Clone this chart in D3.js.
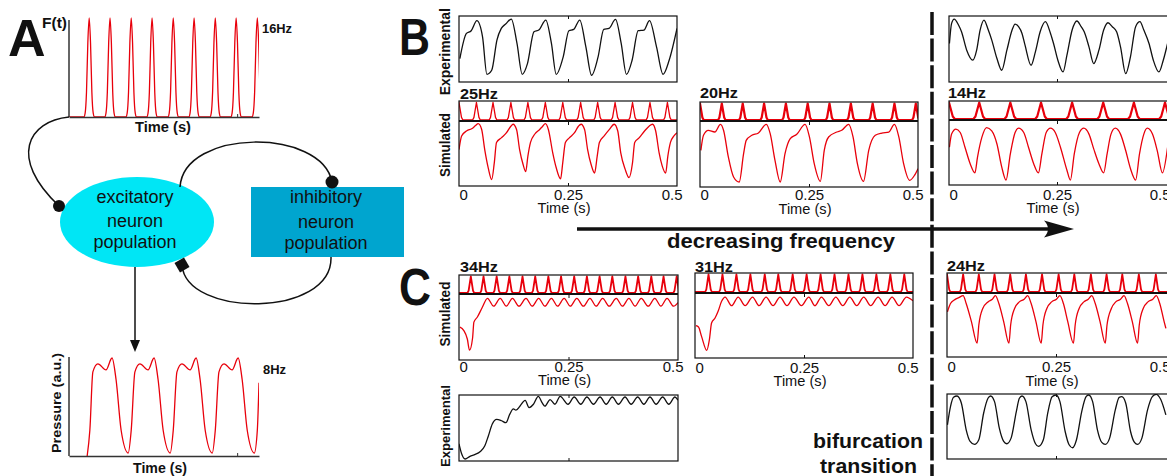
<!DOCTYPE html>
<html>
<head>
<meta charset="utf-8">
<script src="https://cdn.jsdelivr.net/npm/d3@7"></script>
<style>
  html, body { margin: 0; padding: 0; background: #fff; }
  svg { display: block; font-family: "Liberation Sans", Arial, Helvetica, sans-serif; }
</style>
</head>
<body>
<svg id="fig" width="1167" height="476"></svg>
<script>
// ---- values (time in s, amplitude normalised 0..1 in its box) ----
const tickValues = [0, 0.25, 0.5];
const tickLabels = ["0", "0.25", "0.5"];
const freqLabels = ["25Hz", "20Hz", "14Hz", "34Hz", "31Hz", "24Hz"];

// panel A: 16 Hz drive F(t) (pulse peak times) and the 8 Hz pressure response
const aDriveTimes = [0.060, 0.122, 0.185, 0.247, 0.310, 0.372, 0.435, 0.497, 0.560];
const aPressure = [
  [0.054,0.00],[0.062,0.26],[0.071,0.85],[0.086,0.93],[0.110,0.87],[0.128,0.99],[0.140,0.77],[0.155,0.26],[0.176,0.03],
  [0.185,0.26],[0.196,0.85],[0.211,0.93],[0.235,0.87],[0.253,0.99],[0.265,0.77],[0.280,0.26],[0.301,0.03],
  [0.310,0.26],[0.321,0.85],[0.336,0.93],[0.360,0.87],[0.378,0.99],[0.390,0.77],[0.405,0.26],[0.426,0.03],
  [0.435,0.26],[0.446,0.85],[0.461,0.93],[0.485,0.87],[0.503,0.99],[0.515,0.77],[0.530,0.26],[0.551,0.03],
  [0.560,0.26],[0.565,0.74]
];

// panel B, 25 Hz column
const bExp25 = [
  [0.002,0.355],[0.017,0.736],[0.028,0.777],[0.041,0.929],[0.054,0.685],[0.064,0.117],[0.075,0.178],[0.087,0.635],
  [0.097,0.812],[0.107,0.878],[0.120,0.954],[0.133,0.584],[0.145,0.117],[0.157,0.279],[0.172,0.761],[0.183,0.787],
  [0.199,0.939],[0.212,0.584],[0.223,0.117],[0.239,0.381],[0.252,0.777],[0.263,0.797],[0.277,0.939],[0.291,0.533],
  [0.304,0.102],[0.319,0.381],[0.332,0.797],[0.344,0.812],[0.359,0.949],[0.372,0.584],[0.384,0.117],[0.397,0.330],
  [0.411,0.777],[0.424,0.787],[0.437,0.929],[0.453,0.533],[0.468,0.117],[0.482,0.330],[0.500,0.812]
];
const bPulse25 = [0.000, 0.040, 0.078, 0.119, 0.158, 0.198, 0.238, 0.279, 0.318, 0.358, 0.398, 0.438, 0.478];
const bSim25 = [
  [0.000,0.56],[0.006,0.77],[0.018,0.85],[0.029,0.88],[0.038,0.93],[0.044,0.96],[0.052,0.87],[0.059,0.56],[0.067,0.28],[0.075,0.10],
  [0.081,0.36],[0.086,0.67],[0.097,0.74],[0.109,0.82],[0.119,0.92],[0.124,0.95],[0.132,0.87],[0.139,0.56],[0.147,0.33],[0.153,0.22],
  [0.158,0.46],[0.164,0.67],[0.174,0.80],[0.185,0.87],[0.192,0.92],[0.198,0.96],[0.205,0.87],[0.215,0.51],[0.223,0.28],[0.233,0.11],
  [0.238,0.36],[0.244,0.67],[0.253,0.74],[0.265,0.82],[0.274,0.92],[0.280,0.95],[0.288,0.87],[0.295,0.56],[0.303,0.33],[0.311,0.20],
  [0.317,0.46],[0.322,0.67],[0.333,0.77],[0.345,0.87],[0.356,0.95],[0.364,0.85],[0.371,0.51],[0.381,0.26],[0.390,0.13],
  [0.398,0.36],[0.403,0.67],[0.413,0.74],[0.426,0.85],[0.436,0.92],[0.444,0.95],[0.451,0.85],[0.459,0.51],[0.466,0.31],[0.474,0.20],
  [0.479,0.46],[0.485,0.67],[0.493,0.77],[0.500,0.82]
];

// panel B, 20 Hz column
const bPulse20 = [0.000, 0.050, 0.098, 0.147, 0.197, 0.247, 0.297, 0.346, 0.396, 0.446, 0.495];
const bSim20 = [
  [0.002,0.556],[0.008,0.783],[0.019,0.859],[0.034,0.833],[0.047,0.949],[0.054,0.859],[0.065,0.455],[0.077,0.152],[0.090,0.076],
  [0.100,0.505],[0.106,0.707],[0.119,0.783],[0.134,0.818],[0.152,0.949],[0.161,0.808],[0.172,0.404],[0.184,0.076],
  [0.195,0.505],[0.207,0.732],[0.222,0.798],[0.241,0.949],[0.251,0.758],[0.262,0.354],[0.276,0.086],
  [0.285,0.556],[0.295,0.758],[0.314,0.833],[0.325,0.859],[0.341,0.949],[0.351,0.758],[0.361,0.354],[0.375,0.086],
  [0.387,0.556],[0.402,0.783],[0.417,0.818],[0.433,0.833],[0.446,0.949],[0.456,0.758],[0.467,0.354],[0.481,0.101],
  [0.492,0.177],[0.500,0.278]
];

// panel B, 14 Hz column
const bExp14 = [
  [0.001,0.584],[0.006,0.888],[0.012,0.954],[0.022,0.863],[0.029,0.761],[0.041,0.482],[0.055,0.330],[0.064,0.482],
  [0.072,0.787],[0.081,0.939],[0.091,0.787],[0.099,0.635],[0.111,0.355],[0.122,0.178],[0.134,0.482],[0.146,0.787],
  [0.153,0.878],[0.161,0.838],[0.169,0.736],[0.176,0.558],[0.190,0.254],[0.200,0.457],[0.211,0.761],[0.223,0.914],
  [0.235,0.736],[0.242,0.584],[0.252,0.330],[0.264,0.152],[0.273,0.406],[0.285,0.787],[0.296,0.924],[0.306,0.838],
  [0.313,0.761],[0.324,0.533],[0.335,0.279],[0.347,0.482],[0.358,0.787],[0.368,0.898],[0.378,0.838],[0.388,0.761],
  [0.397,0.533],[0.409,0.127],[0.420,0.381],[0.432,0.838],[0.442,0.914],[0.451,0.787],[0.463,0.584],[0.473,0.330],
  [0.486,0.152],[0.496,0.330],[0.506,0.584]
];
const bPulse14 = [0.000, 0.070, 0.142, 0.213, 0.285, 0.357, 0.428, 0.500];
const bSim14 = [
  [0.001,0.581],[0.006,0.783],[0.016,0.859],[0.026,0.808],[0.037,0.581],[0.049,0.328],[0.060,0.187],
  [0.066,0.429],[0.076,0.732],[0.087,0.884],[0.099,0.833],[0.111,0.631],[0.122,0.278],[0.132,0.076],
  [0.142,0.480],[0.153,0.808],[0.161,0.874],[0.173,0.808],[0.184,0.581],[0.196,0.328],[0.207,0.187],
  [0.215,0.480],[0.225,0.808],[0.235,0.874],[0.246,0.808],[0.258,0.581],[0.273,0.227],[0.281,0.076],
  [0.290,0.480],[0.302,0.808],[0.312,0.874],[0.324,0.783],[0.335,0.556],[0.347,0.328],[0.358,0.187],
  [0.366,0.480],[0.375,0.783],[0.385,0.874],[0.397,0.783],[0.409,0.530],[0.420,0.253],[0.432,0.076],
  [0.441,0.480],[0.451,0.783],[0.459,0.874],[0.471,0.783],[0.482,0.530],[0.494,0.187],[0.506,0.581]
];

// panel C, 34 Hz column
const cPulse34 = [0.027, 0.056, 0.086, 0.115, 0.145, 0.174, 0.204, 0.233, 0.263, 0.292, 0.321, 0.350, 0.380, 0.409, 0.439, 0.467, 0.497];
const cSim34 = [
  [0.002,0.497],[0.011,0.446],[0.019,0.318],[0.024,0.149],[0.031,0.333],[0.034,0.574],[0.042,0.651],[0.053,0.795],[0.065,0.933],
  [0.079,0.815],[0.094,0.933],[0.108,0.815],[0.122,0.933],[0.137,0.815],[0.153,0.933],[0.167,0.815],[0.182,0.933],
  [0.196,0.815],[0.211,0.933],[0.225,0.815],[0.240,0.933],[0.254,0.815],[0.269,0.933],[0.284,0.815],[0.299,0.933],
  [0.313,0.815],[0.328,0.933],[0.343,0.815],[0.359,0.933],[0.373,0.815],[0.388,0.933],[0.402,0.815],[0.416,0.933],
  [0.432,0.815],[0.447,0.933],[0.461,0.815],[0.475,0.933],[0.490,0.815],[0.500,0.870]
];
const cExp34 = [
  [0.000,0.26],[0.006,0.11],[0.014,0.03],[0.025,0.07],[0.037,0.10],[0.048,0.14],[0.059,0.23],[0.067,0.38],[0.076,0.56],
  [0.086,0.63],[0.097,0.61],[0.107,0.58],[0.116,0.71],[0.124,0.79],[0.130,0.77],[0.139,0.83],[0.151,0.92],[0.160,0.81],
  [0.170,0.86],[0.181,0.98],[0.190,0.88],[0.196,0.83],[0.208,0.93],[0.219,0.86],[0.231,0.98],[0.249,0.86],[0.263,0.97],
  [0.278,0.86],[0.292,0.97],[0.307,0.86],[0.322,0.97],[0.336,0.86],[0.350,0.97],[0.364,0.86],[0.379,0.97],[0.393,0.86],
  [0.408,0.97],[0.422,0.86],[0.436,0.97],[0.450,0.86],[0.465,0.97],[0.479,0.86],[0.493,0.97],[0.500,0.92]
];

// panel C, 31 Hz column
const cPulse31 = [0.031, 0.063, 0.095, 0.127, 0.160, 0.191, 0.224, 0.256, 0.288, 0.320, 0.352, 0.384, 0.416, 0.448, 0.480];
const cSim31 = [
  [0.002,0.497],[0.008,0.477],[0.015,0.333],[0.027,0.118],[0.033,0.282],[0.038,0.538],[0.046,0.615],[0.053,0.718],[0.061,0.872],[0.069,0.938],
  [0.084,0.805],[0.099,0.938],[0.115,0.805],[0.132,0.938],[0.147,0.805],[0.163,0.938],[0.179,0.805],[0.195,0.938],
  [0.211,0.805],[0.227,0.938],[0.244,0.805],[0.261,0.938],[0.275,0.805],[0.290,0.938],[0.307,0.805],[0.323,0.938],
  [0.339,0.805],[0.355,0.938],[0.371,0.805],[0.387,0.938],[0.403,0.805],[0.420,0.938],[0.436,0.805],[0.452,0.938],
  [0.468,0.805],[0.485,0.938],[0.500,0.880]
];

// panel C, 24 Hz column
const cPulse24 = [0.000, 0.037, 0.073, 0.109, 0.145, 0.181, 0.218, 0.256, 0.292, 0.330, 0.366, 0.402, 0.440, 0.479];
const cSim24 = [
  [0.001,0.706],[0.008,0.835],[0.018,0.897],[0.027,0.928],[0.037,0.959],[0.044,0.835],[0.056,0.552],[0.069,0.216],
  [0.073,0.500],[0.082,0.758],[0.094,0.861],[0.104,0.902],[0.111,0.959],[0.119,0.835],[0.130,0.552],[0.142,0.216],
  [0.146,0.500],[0.155,0.758],[0.166,0.861],[0.177,0.902],[0.185,0.959],[0.193,0.835],[0.204,0.552],[0.216,0.216],
  [0.220,0.500],[0.229,0.758],[0.240,0.861],[0.251,0.902],[0.259,0.959],[0.267,0.835],[0.277,0.552],[0.290,0.216],
  [0.294,0.500],[0.303,0.758],[0.314,0.861],[0.324,0.902],[0.332,0.959],[0.340,0.835],[0.351,0.552],[0.363,0.216],
  [0.367,0.500],[0.377,0.758],[0.387,0.861],[0.398,0.902],[0.406,0.959],[0.414,0.835],[0.425,0.552],[0.437,0.216],
  [0.441,0.500],[0.450,0.758],[0.461,0.861],[0.472,0.902],[0.480,0.959],[0.488,0.835],[0.498,0.552],[0.502,0.448]
];
const cExp24 = [
  [0.001,0.526],[0.008,0.806],[0.015,0.949],[0.023,0.969],[0.033,0.857],[0.044,0.449],[0.053,0.270],[0.063,0.224],
  [0.073,0.296],[0.084,0.704],[0.094,0.934],[0.100,0.969],[0.109,0.883],[0.120,0.474],[0.130,0.270],[0.137,0.235],
  [0.147,0.321],[0.159,0.730],[0.166,0.934],[0.172,0.969],[0.181,0.883],[0.193,0.449],[0.203,0.235],[0.210,0.194],
  [0.221,0.296],[0.231,0.704],[0.241,0.959],[0.250,0.985],[0.259,0.883],[0.271,0.423],[0.280,0.219],[0.288,0.173],
  [0.297,0.296],[0.309,0.730],[0.319,0.959],[0.325,0.985],[0.334,0.883],[0.345,0.449],[0.355,0.255],[0.363,0.224],
  [0.373,0.321],[0.386,0.755],[0.395,0.949],[0.401,0.959],[0.410,0.857],[0.421,0.423],[0.430,0.255],[0.437,0.224],
  [0.447,0.321],[0.460,0.755],[0.471,0.959],[0.480,0.995],[0.490,0.918],[0.502,0.679]
];

// pulse outlines, offsets in half-widths
const gaussShape = [[-1,0],[-0.75,0.04],[-0.5,0.25],[-0.25,0.75],[0,1],[0.25,0.75],[0.5,0.25],[0.75,0.04],[1,0]];
const spikeShape = [[-1,0],[-0.65,0.15],[0,1],[0.65,0.15],[1,0]];

// ---- drawing ----
const svg = d3.select("#fig");
const RED = "#e8000b", INK = "#111";
let nClip = 0;

function clip(x0, y0, x1, y1) {
  const id = "clip" + (nClip++);
  svg.append("clipPath").attr("id", id).append("rect")
    .attr("x", x0).attr("y", y0).attr("width", x1 - x0).attr("height", y1 - y0);
  return `url(#${id})`;
}

function trace(xs, ys, pts, color, width, clipUrl, curve) {
  const line = d3.line().x(d => xs(d[0])).y(d => ys(d[1])).curve(curve || d3.curveMonotoneX);
  svg.append("path").datum(pts).attr("d", line)
    .attr("fill", "none").attr("stroke", color).attr("stroke-width", width)
    .attr("stroke-linejoin", "round").attr("clip-path", clipUrl);
}

function pulseTrain(times, hw, shape) {
  const pts = [[-1, 0]];
  times.forEach(t => shape.forEach(s => pts.push([t + s[0] * hw, s[1]])));
  pts.push([2, 0]);
  return pts;
}

function label(x, y, str, size, o = {}) {
  const t = svg.append("text").attr("x", x).attr("y", y).text(str)
    .attr("font-size", size).attr("fill", o.fill || INK)
    .attr("font-weight", o.bold ? "bold" : null)
    .attr("text-anchor", o.anchor || "start");
  if (o.len) t.attr("textLength", o.len).attr("lengthAdjust", "spacingAndGlyphs");
  if (o.rotate) t.attr("transform", `rotate(-90,${x},${y})`);
  return t;
}

function frame(x0, y0, x1, y1, w) {
  svg.append("rect").attr("x", x0).attr("y", y0).attr("width", x1 - x0).attr("height", y1 - y0)
    .attr("fill", "none").attr("stroke", INK).attr("stroke-width", w || 1.2);
}

function innerTicks(xs, y, dir) {
  const g = svg.append("g").attr("transform", `translate(0,${y})`)
    .call((dir > 0 ? d3.axisTop(xs) : d3.axisBottom(xs)).tickValues([0.25]).tickSize(-3).tickFormat(""));
  g.select(".domain").remove();
  g.selectAll("line").attr("stroke", INK);
}

// ---- B and C columns ----
const columns = [
  { x0: 459, x1: 677, edge: 677,  pulse: [101, 121], main: [121, 186], exp: [16, 82],   hz: [460, 99.3],  tickY: 199.5, timeY: 213,   pulses: bPulse25, hw: 0.0088, pw: 1.3, sim: bSim25, expData: bExp25 },
  { x0: 700, x1: 918, edge: 918,  pulse: [102, 121], main: [121, 187],                  hz: [700, 98.3],  tickY: 200,   timeY: 213.5, pulses: bPulse20, hw: 0.0084, pw: 2.2, sim: bSim20 },
  { x0: 949, x1: 1165, edge: 1171, pulse: [101, 120], main: [120, 185], exp: [16, 82],  hz: [948, 98.3],  tickY: 199.5, timeY: 213,   pulses: bPulse14, hw: 0.0135, pw: 2.2, sim: bSim14, expData: bExp14 },
  { x0: 459, x1: 678, edge: 678,  pulse: [275, 294], main: [294, 360], exp: [395, 461], hz: [460, 272],   tickY: 371.5, timeY: 385,   pulses: cPulse34, hw: 0.0077, pw: 1.8, sim: cSim34, expData: cExp34 },
  { x0: 695, x1: 913, edge: 913,  pulse: [273, 293], main: [293, 358],                  hz: [695, 272],   tickY: 372.5, timeY: 386,   pulses: cPulse31, hw: 0.0077, pw: 1.8, sim: cSim31 },
  { x0: 947, x1: 1165, edge: 1171, pulse: [273, 293], main: [293, 357], exp: [394, 459], hz: [947, 271],  tickY: 371.5, timeY: 385.5, pulses: cPulse24, hw: 0.0077, pw: 1.8, sim: cSim24, expData: cExp24 }
];

columns.forEach((c, i) => {
  const x = d3.scaleLinear().domain([0, 0.5]).range([c.x0, c.x1]);
  const yPulse = d3.scaleLinear().domain([0, 1]).range([c.pulse[1] - 1, c.pulse[0] + 1.5]);
  const yMain = d3.scaleLinear().domain([0, 1]).range([c.main[1], c.main[0]]);

  trace(x, yPulse, pulseTrain(c.pulses, c.hw, spikeShape), RED, c.pw,
        clip(c.x0, c.pulse[0], c.edge, c.pulse[1]), d3.curveLinear);
  trace(x, yMain, c.sim, RED, 1.3, clip(c.x0, c.main[0], c.edge, c.main[1]));

  frame(c.x0, c.pulse[0], c.edge, c.main[1]);
  svg.append("line").attr("x1", c.x0).attr("x2", c.edge).attr("y1", c.main[0]).attr("y2", c.main[0])
    .attr("stroke", INK).attr("stroke-width", 2);
  innerTicks(x, c.main[1], -1);
  innerTicks(x, c.main[0] + 1, 1);

  // tick labels
  const ax = svg.append("g").attr("transform", `translate(0,${c.main[1]})`)
    .call(d3.axisBottom(x).tickValues(tickValues).tickSize(0).tickFormat((d, k) => tickLabels[k]));
  ax.select(".domain").remove();
  ax.attr("font-size", 15).attr("font-family", null);
  ax.selectAll("text").attr("y", c.tickY - c.main[1]).attr("dy", null).attr("fill", INK)
    .attr("text-anchor", (d, k) => k === 0 ? "start" : (k === tickValues.length - 1 ? "end" : "middle"))
    .attr("dx", (d, k) => k === tickValues.length - 1 ? 5 : 0);

  label(x(0.25) - 4, c.timeY, "Time (s)", 15, { anchor: "middle", len: 53 });
  label(c.hz[0], c.hz[1], freqLabels[i], 14, { bold: true, len: 38 });

  if (c.exp) {
    const yExp = d3.scaleLinear().domain([0, 1]).range([c.exp[1], c.exp[0]]);
    trace(x, yExp, c.expData, INK, 1.3, clip(c.x0, c.exp[0], c.edge, c.exp[1]));
    frame(c.x0, c.exp[0], c.edge, c.exp[1]);
    innerTicks(x, c.exp[1], -1);
    innerTicks(x, c.exp[0], 1);
  }
});

// row labels
label(450, 51.7, "Experimental", 14, { bold: true, rotate: true, anchor: "middle", len: 87 });
label(450, 145, "Simulated", 14, { bold: true, rotate: true, anchor: "middle", len: 64 });
label(450, 314, "Simulated", 14, { bold: true, rotate: true, anchor: "middle", len: 65 });
label(450, 426, "Experimental", 13, { bold: true, rotate: true, anchor: "middle", len: 82 });

// panel letters
label(8, 56, "A", 52, { bold: true });
label(399, 55, "B", 52, { bold: true, len: 31 });
label(399, 305, "C", 52, { bold: true, len: 32 });

// frequency arrow
svg.append("line").attr("x1", 577).attr("x2", 1052).attr("y1", 229).attr("y2", 229)
  .attr("stroke", INK).attr("stroke-width", 3.5);
svg.append("path").attr("d", "M1074,229 L1044,220.5 Q1052,229 1044,237.5 Z").attr("fill", INK);
label(781, 248, "decreasing frequency", 21, { bold: true, anchor: "middle", len: 228 });

// bifurcation divider
svg.append("line").attr("x1", 932).attr("x2", 932).attr("y1", 12).attr("y2", 476)
  .attr("stroke", INK).attr("stroke-width", 3.5).attr("stroke-dasharray", "23 3.6");
label(868, 447.5, "bifurcation", 21, { bold: true, anchor: "middle", len: 110 });
label(868.5, 472.5, "transition", 21, { bold: true, anchor: "middle", len: 97 });

// ---- panel A ----
const ax = d3.scaleLinear().domain([0, 0.565]).range([69, 259]);
const ayTop = d3.scaleLinear().domain([0, 1]).range([117, 18]);
const ayBot = d3.scaleLinear().domain([0, 1]).range([456, 357]);

trace(ax, ayTop, pulseTrain(aDriveTimes, 0.016, gaussShape), RED, 1.3, clip(69, 10, 259, 117));
trace(ax, ayBot, aPressure, RED, 1.3, clip(69, 350, 259, 456));

[[ayTop, 117, 20], [ayBot, 456, 357]].forEach(([ys, y0, yTop]) => {
  svg.append("line").attr("x1", 69).attr("x2", 69).attr("y1", yTop).attr("y2", y0)
    .attr("stroke", "#333").attr("stroke-width", 1.5);
  const g = svg.append("g").attr("transform", `translate(0,${y0})`)
    .call(d3.axisBottom(ax).tickValues([0.5]).tickSizeInner(-3).tickSizeOuter(0).tickFormat(""));
  g.select(".domain").attr("stroke", "#333").attr("stroke-width", 1.5);
  g.selectAll("line").attr("stroke", "#333");
});

label(42, 28, "F(t)", 14, { bold: true, len: 25 });
label(262, 33, "16Hz", 13, { bold: true, len: 30 });
label(163, 131.5, "Time (s)", 14.5, { bold: true, anchor: "middle", len: 56 });
label(263, 374, "8Hz", 13, { bold: true, len: 23 });
label(160, 473, "Time (s)", 14.5, { bold: true, anchor: "middle", len: 54 });
label(61, 403, "Pressure (a.u.)", 13.5, { bold: true, rotate: true, anchor: "middle", len: 100 });

// population diagram
svg.append("ellipse").attr("cx", 137).attr("cy", 222).attr("rx", 77).attr("ry", 45).attr("fill", "#00e6f5");
svg.append("rect").attr("x", 251).attr("y", 187).attr("width", 153).attr("height", 70).attr("fill", "#00a5cf");
const wire = (d) => svg.append("path").attr("d", d).attr("fill", "none").attr("stroke", INK).attr("stroke-width", 1.5);
wire("M69,117 C28,121 8,158 59,206");
wire("M180,187 C184,128 322,128 332,182");
wire("M331,257 C333,318 186,318 182,265");
wire("M135,267 L135,342");
svg.append("path").attr("d", "M130,340 L140,340 L135,352 Z").attr("fill", INK);
svg.append("circle").attr("cx", 59).attr("cy", 206).attr("r", 6).attr("fill", INK);
svg.append("circle").attr("cx", 332).attr("cy", 182).attr("r", 6.5).attr("fill", INK);
svg.append("rect").attr("x", -5.5).attr("y", -5.5).attr("width", 11).attr("height", 11).attr("fill", INK)
  .attr("transform", "translate(182,265) rotate(-30)");

["excitatory", "neuron", "population"].forEach((s, k) =>
  label(135, [203, 226.5, 247.5][k], s, 18, { anchor: "middle" }));
["inhibitory", "neuron", "population"].forEach((s, k) =>
  label(326, [203, 228, 249][k], s, 18, { anchor: "middle" }));
</script>
</body>
</html>
